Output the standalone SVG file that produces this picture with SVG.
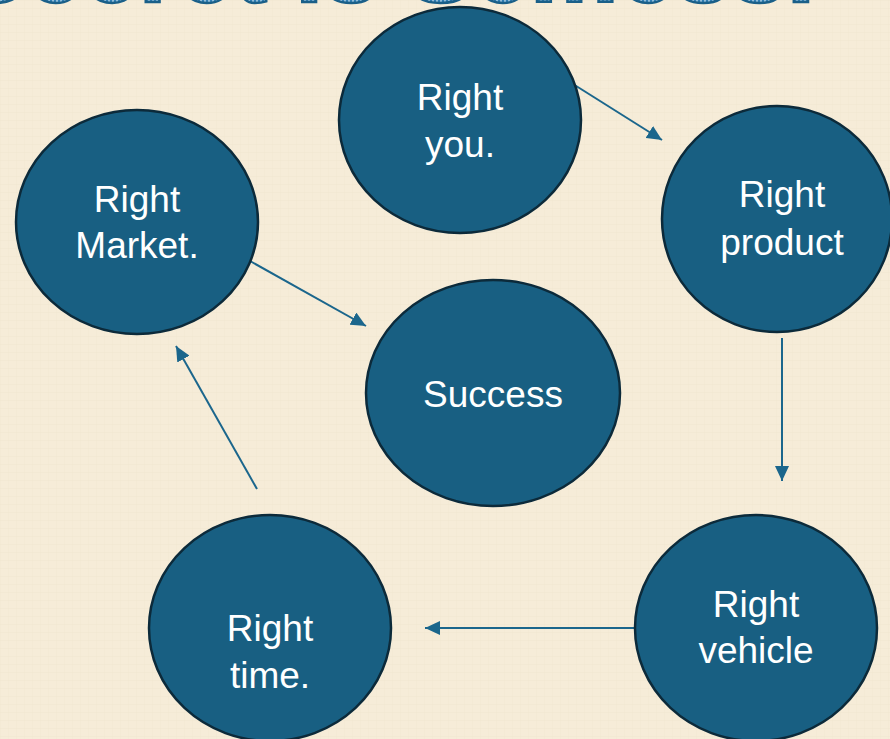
<svg xmlns="http://www.w3.org/2000/svg" width="890" height="739" viewBox="0 0 890 739">
<defs>
<style>
.node ellipse{fill:#185f82;stroke:#0c2a3a;stroke-width:2.5}
.node text{font-family:"Liberation Sans",Arial,sans-serif;font-size:37px;fill:#ffffff;text-anchor:middle}
.conn line{stroke:#1b668c;stroke-width:2;marker-end:url(#ah)}
.title{font-family:"Liberation Sans",Arial,sans-serif;font-weight:bold;font-size:100px;fill:url(#chk);stroke:#1a5f88;stroke-width:2.5}
</style>
<marker id="ah" markerUnits="userSpaceOnUse" markerWidth="16" markerHeight="14" refX="15" refY="7" orient="auto">
<path d="M0,0 L15,7 L0,14 Z" fill="#1b668c"/>
</marker>
<pattern id="chk" width="4" height="4" patternUnits="userSpaceOnUse">
<rect width="4" height="4" fill="#2f7db3"/>
<rect width="2" height="2" fill="#8fbcd9"/>
<rect x="2" y="2" width="2" height="2" fill="#8fbcd9"/>
</pattern>
<pattern id="bg" width="8" height="8" patternUnits="userSpaceOnUse">
<rect width="8" height="8" fill="#f6ecd8"/>
<rect width="8" height="1" fill="#f0e5cf" opacity="0.5"/>
<rect width="1" height="8" fill="#f0e5cf" opacity="0.4"/>
</pattern>
</defs>
<rect width="890" height="739" fill="url(#bg)"/>
<text class="title" x="-40" y="2" textLength="855" lengthAdjust="spacingAndGlyphs">Secret is Selfless.</text>
<g class="conn" id="connectors">
<line x1="573" y1="84" x2="662" y2="140"/>
<line x1="782" y1="338" x2="782" y2="481"/>
<line x1="635" y1="628" x2="425" y2="628"/>
<line x1="257" y1="489" x2="176" y2="346"/>
<line x1="250" y1="261" x2="366" y2="326"/>
</g>
<g class="node" id="node-you">
<ellipse cx="460" cy="120" rx="121" ry="113"/>
<text x="460" y="110">Right</text>
<text x="460" y="157">you.</text>
</g>
<g class="node" id="node-product">
<ellipse cx="777" cy="219" rx="115" ry="113"/>
<text x="782" y="207">Right</text>
<text x="782" y="255">product</text>
</g>
<g class="node" id="node-market">
<ellipse cx="137" cy="222" rx="121" ry="112"/>
<text x="137" y="212">Right</text>
<text x="137" y="258">Market.</text>
</g>
<g class="node" id="node-success">
<ellipse cx="493" cy="393" rx="127" ry="113"/>
<text x="493" y="407">Success</text>
</g>
<g class="node" id="node-vehicle">
<ellipse cx="756" cy="628" rx="121" ry="113"/>
<text x="756" y="617">Right</text>
<text x="756" y="663">vehicle</text>
</g>
<g class="node" id="node-time">
<ellipse cx="270" cy="628" rx="121" ry="113"/>
<text x="270" y="641">Right</text>
<text x="270" y="688">time.</text>
</g>
</svg>
